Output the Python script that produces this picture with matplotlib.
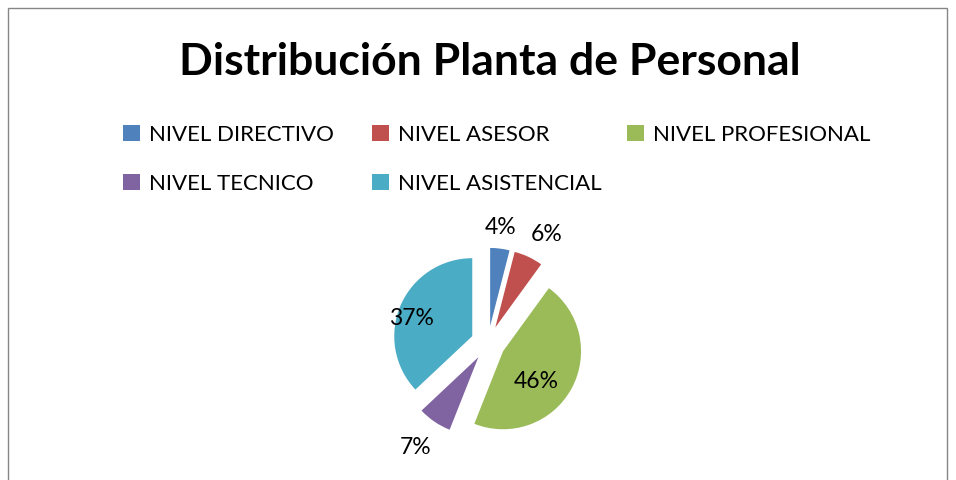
import numpy as np
import matplotlib.pyplot as plt
from matplotlib.patches import Rectangle

# Data
categories = ['NIVEL DIRECTIVO', 'NIVEL ASESOR', 'NIVEL PROFESIONAL', 'NIVEL TECNICO', 'NIVEL ASISTENCIAL']
shares = [4, 6, 46, 7, 37]
colors = ['#4F81BD', '#C0504D', '#9BBB59', '#8064A2', '#4BACC6']

# label placement (distance in radii, angle in degrees) measured from each exploded wedge's center
label_dist = [1.27, 1.36, 0.57, 1.41, 0.81]
label_ang = [84, 61, -42, -125, 164]

plt.rcParams['font.family'] = ['Lato', 'DejaVu Sans']

W, H = 956, 480
fig = plt.figure(figsize=(W / 100, H / 100), dpi=100)

# chart border
fig.patches.append(Rectangle((8 / W, -0.1), 939 / W, 1.1 - 8 / H, transform=fig.transFigure,
                             fill=False, edgecolor='#868686', linewidth=1))

fig.text(490 / W, 1 - 62 / H, 'Distribución Planta de Personal', ha='center', va='center',
         fontsize=32, fontweight='bold')

# pie axes: radius 78 px, center at (488, 343)
r_px = 78
L = 2.0
side = 2 * L * r_px
cx, cy = 488, H - 343
ax = fig.add_axes([(cx - side / 2) / W, (cy - side / 2) / H, side / W, side / H])
wedges, texts, autotexts = ax.pie(shares, colors=colors, startangle=90, counterclock=False,
                                  explode=[0.22] * len(shares), autopct='%1.0f%%',
                                  textprops={'fontsize': 16.5, 'color': 'black'})
ax.set_xlim(-L, L)
ax.set_ylim(-L, L)
ax.set_aspect('equal')
ax.axis('off')

for w, t, d, a in zip(wedges, autotexts, label_dist, label_ang):
    th = np.deg2rad(a)
    t.set_position((w.center[0] + d * w.r * np.cos(th), w.center[1] + d * w.r * np.sin(th)))
    t.set_ha('center')
    t.set_va('center')

leg_kw = dict(loc='upper left', frameon=False, fontsize=16, handlelength=0.75, handleheight=0.75,
              handletextpad=0.4, labelspacing=1.3)
order = [0, 3, 1, 4]
leg1 = fig.legend([wedges[i] for i in order], [categories[i] for i in order], ncol=2,
                  bbox_to_anchor=(103 / W, 1 - 105 / H), columnspacing=1.75, **leg_kw)
fig.legend([wedges[2]], [categories[2]], ncol=1,
           bbox_to_anchor=(607 / W, 1 - 105 / H), **leg_kw)

fig.savefig('out.png', dpi=100)
